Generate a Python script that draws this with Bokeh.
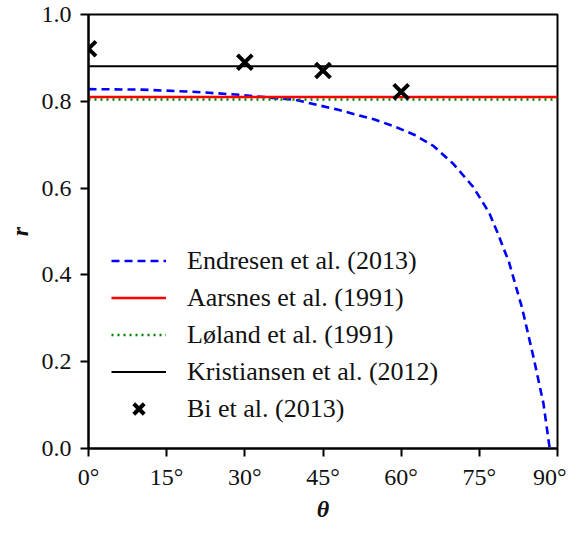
from bokeh.plotting import figure
from bokeh.models import Legend, LegendItem, FixedTicker, Range1d
from bokeh.embed import file_html
from bokeh.resources import INLINE

# ---- data ----
endresen_theta = [0, 10, 20, 29, 39.8, 47.4, 54.9, 58.7, 62.5, 66.2, 70.0, 73.8, 76.9, 78.5,
                  80.7, 83.2, 85.4, 87.3, 88.5]
endresen_r = [0.828, 0.827, 0.822, 0.815, 0.803, 0.782, 0.758, 0.742, 0.723, 0.697, 0.656, 0.603,
              0.543, 0.497, 0.429, 0.324, 0.210, 0.104, 0.0]

theta_span = [0, 90]
aarsnes_r = 0.81
loland_r = 0.804
kristiansen_r = 0.881

bi_theta = [0, 30, 45, 60]
bi_r = [0.921, 0.89, 0.871, 0.822]

x_ticks = [0, 15, 30, 45, 60, 75, 90]
x_tick_labels = ["0°", "15°", "30°", "45°", "60°", "75°", "90°"]
y_ticks = [0.0, 0.2, 0.4, 0.6, 0.8, 1.0]
y_tick_labels = ["0.0", "0.2", "0.4", "0.6", "0.8", "1.0"]

labels = ["Endresen et al. (2013)", "Aarsnes et al. (1991)", "Løland et al. (1991)",
          "Kristiansen et al. (2012)", "Bi et al. (2013)"]

FONT = "Liberation Serif"
TXT = "#111111"

p = figure(frame_width=469, frame_height=434, output_backend="svg", toolbar_location=None,
           x_range=Range1d(0, 90), y_range=Range1d(0, 1),
           min_border_left=88, min_border_top=14, min_border_right=9, min_border_bottom=70)
p.xgrid.visible = False
p.ygrid.visible = False
p.outline_line_color = "black"
p.outline_line_width = 2
p.background_fill_color = "white"

r1 = p.line(endresen_theta, endresen_r, line_color="#0000ff", line_width=2.6, line_dash="8 5")
r2 = p.line(theta_span, [aarsnes_r] * 2, line_color="#ff0000", line_width=2.4)
r3 = p.line(theta_span, [loland_r] * 2, line_color="#008000", line_width=2.4, line_dash="2 4")
r4 = p.line(theta_span, [kristiansen_r] * 2, line_color="black", line_width=2)
r5 = p.scatter(bi_theta, bi_r, marker="x", size=21, line_color="black", line_width=4)

for ax in (p.xaxis[0], p.yaxis[0]):
    ax.axis_line_width = 2
    ax.major_tick_line_width = 2
    ax.major_tick_out = 8
    ax.major_tick_in = 0
    ax.minor_tick_out = 0
    ax.minor_tick_in = 0
    ax.major_label_text_font = FONT
    ax.major_label_text_font_size = "24px"
    ax.major_label_text_color = TXT
    ax.axis_label_text_font = FONT
    ax.axis_label_text_font_size = "24px"
    ax.axis_label_text_font_style = "bold italic"
    ax.axis_label_text_color = TXT

p.xaxis.ticker = FixedTicker(ticks=x_ticks)
p.xaxis.major_label_overrides = dict(zip(x_ticks, x_tick_labels))
p.yaxis.ticker = FixedTicker(ticks=y_ticks)
p.yaxis.major_label_overrides = dict(zip(y_ticks, y_tick_labels))
p.xaxis.axis_label = "θ"
p.yaxis.axis_label = "r"
p.xaxis.major_label_standoff = 7
p.yaxis.major_label_standoff = 9
p.xaxis.axis_label_standoff = 3
p.yaxis.axis_label_standoff = 6

legend = Legend(items=[LegendItem(label=l, renderers=[r]) for l, r in zip(labels, [r1, r2, r3, r4, r5])],
                location=(23, 21), padding=0, margin=0, spacing=0,
                glyph_width=55, glyph_height=37, label_height=37, label_standoff=21,
                label_text_font=FONT, label_text_font_size="26px", label_text_color=TXT,
                border_line_color=None, background_fill_alpha=0)
p.add_layout(legend)

open("out.html", "w").write(file_html(p, INLINE))
